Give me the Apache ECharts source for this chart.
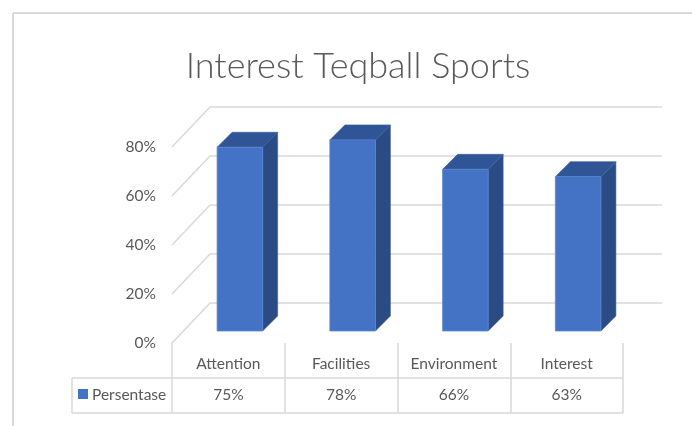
<!DOCTYPE html>
<html>
<head>
<meta charset="utf-8">
<script src="https://cdn.jsdelivr.net/npm/echarts@6/dist/echarts.min.js"></script>
<style>html,body{margin:0;padding:0;background:#fff;}#c{width:692px;height:426px;}</style>
</head>
<body>
<div id="c"></div>
<script>
const titleText = 'Interest Teqball Sports';
const seriesName = 'Persentase';
const categories = ['Attention', 'Facilities', 'Environment', 'Interest'];
const values = [0.75, 0.78, 0.66, 0.63];
const valueLabels = ['75%', '78%', '66%', '63%'];
const yTicks = [0, 0.2, 0.4, 0.6, 0.8];

const FONT = 'Lato';
const FS = 15.5;
const TXT = '#595959';
const GRID = '#d9d9d9';
const BACK = [38, -40];
const BARF = [11.5, -12];
const BARD = [15, -15];

const chart = echarts.init(document.getElementById('c'));

function wallItem(params, api) {
  const cs = params.coordSys;
  const y = api.coord([0, api.value(1)])[1];
  const x0 = cs.x, x1 = cs.x + cs.width;
  return {
    type: 'group',
    children: [
      { type: 'line', shape: { x1: x0, y1: y, x2: x0 + BACK[0], y2: y + BACK[1] }, style: { stroke: GRID, lineWidth: 1.5 } },
      { type: 'line', shape: { x1: x0 + BACK[0], y1: y + BACK[1], x2: x1 + BACK[0] + 1, y2: y + BACK[1] }, style: { stroke: GRID, lineWidth: 1.5 } }
    ]
  };
}

function barItem(params, api) {
  const i = api.value(0);
  const p = api.coord([i, api.value(1)]);
  const b = api.coord([i, 0]);
  const w = api.size([1, 0])[0] * 0.404;
  const cx = p[0] + BARF[0];
  const l = cx - w / 2, r = cx + w / 2;
  const t = p[1] + BARF[1], bt = b[1] + BARF[1];
  return {
    type: 'group',
    children: [
      { type: 'polygon', shape: { points: [[r, t], [r + BARD[0], t + BARD[1]], [r + BARD[0], bt + BARD[1]], [r, bt]] }, style: { fill: '#2b4b85', stroke: '#3a5d9c', lineWidth: 0.6 } },
      { type: 'polygon', shape: { points: [[l, t], [l + BARD[0], t + BARD[1]], [r + BARD[0], t + BARD[1]], [r, t]] }, style: { fill: '#2f5597', stroke: '#3a5d9c', lineWidth: 0.6 } },
      { type: 'rect', shape: { x: l, y: t, width: w, height: bt - t }, style: { fill: '#4472c4', stroke: '#5b88d6', lineWidth: 0.8 } }
    ]
  };
}

function tableItem(params, api) {
  const i = api.value(0);
  const b = api.coord([i, 0]);
  return {
    type: 'text',
    style: { x: b[0], y: b[1] + 52, text: valueLabels[params.dataIndex], align: 'center', verticalAlign: 'middle', fill: TXT, font: FS + 'px "' + FONT + '"' }
  };
}

chart.setOption({
  animation: false,
  backgroundColor: '#fff',
  textStyle: { fontFamily: FONT },
  grid: { left: 172, right: 69, top: 147, bottom: 83 },
  xAxis: {
    type: 'category',
    data: categories,
    boundaryGap: true,
    axisLine: { show: false },
    axisTick: { show: true, interval: 0, length: 70, lineStyle: { color: GRID, width: 1.5 } },
    axisLabel: { interval: 0, margin: 13, color: TXT, fontSize: FS, fontFamily: FONT },
    splitLine: { show: false }
  },
  yAxis: {
    type: 'value',
    min: 0, max: 0.8, interval: 0.2,
    axisLine: { show: false },
    axisTick: { show: false },
    splitLine: { show: false },
    axisLabel: { margin: 16, color: TXT, fontSize: FS, fontFamily: FONT, formatter: v => Math.round(v * 100) + '%' }
  },
  graphic: [
    { type: 'line', shape: { x1: 13, y1: 13, x2: 692, y2: 13 }, style: { stroke: GRID, lineWidth: 2 } },
    { type: 'line', shape: { x1: 13, y1: 13, x2: 13, y2: 426 }, style: { stroke: GRID, lineWidth: 2 } },
    { type: 'text', x: 358, y: 66, style: { text: titleText, align: 'center', verticalAlign: 'middle', fill: TXT, font: '300 36px "' + FONT + '"' } },
    { type: 'line', shape: { x1: 72, y1: 378, x2: 623, y2: 378 }, style: { stroke: GRID, lineWidth: 1.5 } },
    { type: 'line', shape: { x1: 72, y1: 413, x2: 623, y2: 413 }, style: { stroke: GRID, lineWidth: 1.5 } },
    { type: 'line', shape: { x1: 72, y1: 378, x2: 72, y2: 413 }, style: { stroke: GRID, lineWidth: 1.5 } },
    { type: 'rect', shape: { x: 78, y: 389, width: 10, height: 10 }, style: { fill: '#4472c4' } },
    { type: 'text', x: 92, y: 395, style: { text: seriesName, align: 'left', verticalAlign: 'middle', fill: TXT, font: FS + 'px "' + FONT + '"' } }
  ],
  series: [
    { type: 'custom', name: 'walls', data: yTicks.map(v => [0, v]), renderItem: wallItem, clip: false, z: 1, silent: true },
    { type: 'custom', name: seriesName, data: values.map((v, i) => [i, v]), renderItem: barItem, clip: false, z: 3 },
    { type: 'custom', name: 'table', data: values.map((v, i) => [i, v]), renderItem: tableItem, clip: false, z: 3, silent: true }
  ]
});
</script>
</body>
</html>
